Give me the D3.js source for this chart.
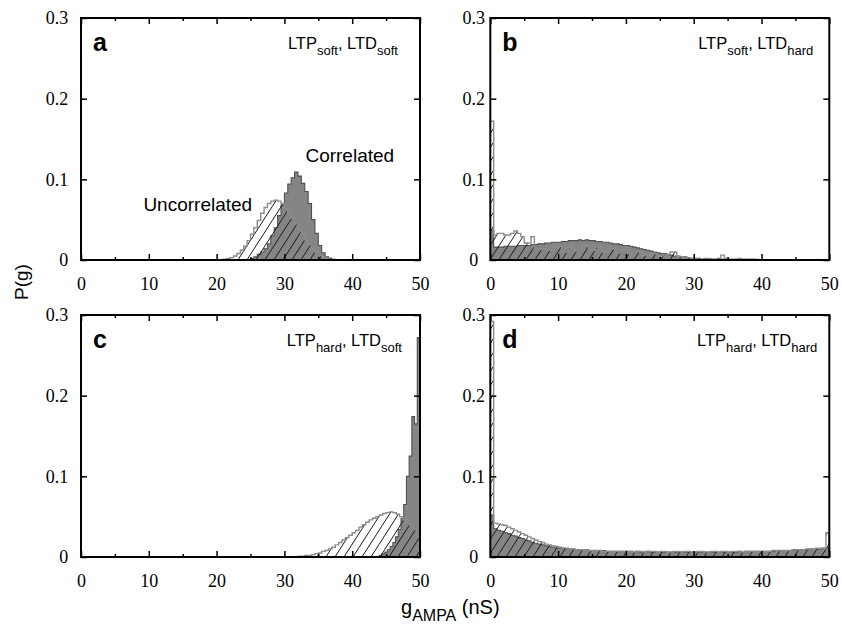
<!DOCTYPE html>
<html>
<head>
<meta charset="utf-8">
<script src="https://cdn.jsdelivr.net/npm/d3@7"></script>
<style>
  body { margin: 0; background: #fff; }
  .sans { font-family: "Liberation Sans", Arial, sans-serif; fill: #000; }
</style>
</head>
<body>
<script>
// panel ids and the plasticity labels shown in each corner
const panelIds = ['a', 'b', 'c', 'd'];
const ltpLabels = ['soft', 'soft', 'hard', 'hard'];
const ltdLabels = ['soft', 'hard', 'soft', 'hard'];

const xTicks = [0, 10, 20, 30, 40, 50];
const xMinorTicks = [5, 15, 25, 35, 45];
const yTicks = [0, 0.1, 0.2, 0.3];

// histogram bins: first bin edge (nS), bin width (nS), P(g) per bin
const corrAStart = 25, corrAWidth = 0.5;
const corrA = [0.002, 0.004, 0.007, 0.010, 0.014, 0.020, 0.030, 0.040, 0.055, 0.068,
  0.083, 0.094, 0.102, 0.109, 0.104, 0.095, 0.085, 0.070, 0.050, 0.033,
  0.018, 0.009, 0.004, 0.002, 0.001];
const uncorrAStart = 21, uncorrAWidth = 0.5;
const uncorrA = [0.001, 0.002, 0.003, 0.005, 0.008, 0.012, 0.017, 0.024, 0.032, 0.040,
  0.049, 0.058, 0.065, 0.070, 0.073, 0.074, 0.073, 0.070, 0.064, 0.058,
  0.052, 0.045, 0.038, 0.032, 0.025, 0.019, 0.014, 0.010, 0.006, 0.004, 0.002];

const corrBStart = 0, corrBWidth = 0.5;
const corrB = [0.037,
  0.016, 0.016, 0.016, 0.017, 0.017, 0.017, 0.017, 0.018, 0.018,
  0.018, 0.018, 0.019, 0.019, 0.020, 0.020, 0.021, 0.021, 0.022, 0.022,
  0.022, 0.023, 0.023, 0.024, 0.024, 0.024, 0.025, 0.024, 0.025, 0.024,
  0.024, 0.023, 0.023, 0.022, 0.022, 0.021, 0.020, 0.020, 0.019, 0.018,
  0.018, 0.017, 0.016, 0.015, 0.014, 0.013, 0.012, 0.011, 0.010, 0.009,
  0.008, 0.008, 0.007, 0.006, 0.005, 0.005, 0.004, 0.004, 0.003, 0.002,
  0.002, 0.002, 0.001, 0.001, 0.001, 0.001, 0.001, 0.002, 0.001, 0.001,
  0.001, 0.001, 0.001, 0.001, 0.001, 0.001, 0.001, 0.001, 0.000, 0.000];
const uncorrBStart = 0, uncorrBWidth = 0.5;
const uncorrB = [0.172,
  0.031, 0.033, 0.033, 0.031, 0.031, 0.033, 0.036, 0.033, 0.029,
  0.021, 0.021, 0.029, 0.013, 0.013, 0.014, 0.014, 0.012, 0.012, 0.017,
  0.017, 0.010, 0.010, 0.015, 0.015, 0.011, 0.011, 0.018, 0.018, 0.012,
  0.012, 0.016, 0.016, 0.010, 0.010, 0.014, 0.014, 0.009, 0.009, 0.012,
  0.012, 0.007, 0.007, 0.010, 0.010, 0.006, 0.006, 0.008, 0.008, 0.005,
  0.005, 0.007, 0.007, 0.010, 0.010, 0.004, 0.004, 0.003, 0.003, 0.002,
  0.002, 0.001, 0.001, 0.002, 0.002, 0.001, 0.001, 0.001, 0.006, 0.002,
  0.001, 0.001, 0.001, 0.002, 0.001, 0.001, 0.001, 0.001, 0.001, 0.000];

const corrCStart = 44, corrCWidth = 0.4;
const corrC = [0.002, 0.004, 0.006, 0.009, 0.013, 0.018, 0.025, 0.034, 0.048, 0.065,
  0.100, 0.125, 0.174, 0.165, 0.272];
const uncorrCStart = 32, uncorrCWidth = 0.5;
const uncorrC = [0.001, 0.001, 0.002, 0.002, 0.003, 0.004, 0.005, 0.007, 0.008, 0.010,
  0.012, 0.015, 0.018, 0.021, 0.024, 0.027, 0.030, 0.033, 0.037, 0.040,
  0.043, 0.046, 0.048, 0.050, 0.052, 0.054, 0.055, 0.056, 0.055, 0.053,
  0.050, 0.046, 0.042, 0.038, 0.034, 0.029];

const corrDStart = 0, corrDWidth = 0.5;
const corrD = [0.052,
  0.035, 0.033, 0.032, 0.030, 0.029, 0.027, 0.026, 0.024, 0.023,
  0.021, 0.020, 0.018, 0.017, 0.016, 0.015, 0.014, 0.013, 0.012, 0.012,
  0.011, 0.011, 0.010, 0.010, 0.010, 0.009, 0.009, 0.009, 0.009, 0.008,
  0.008, 0.008, 0.008, 0.008, 0.007, 0.007, 0.007, 0.007, 0.007, 0.007,
  0.007, 0.007, 0.006, 0.007, 0.006, 0.006, 0.007, 0.006, 0.006, 0.006,
  0.006, 0.006, 0.006, 0.006, 0.006, 0.006, 0.006, 0.006, 0.006, 0.006,
  0.006, 0.006, 0.006, 0.006, 0.006, 0.006, 0.006, 0.006, 0.006, 0.006,
  0.006, 0.006, 0.006, 0.007, 0.006, 0.007, 0.007, 0.007, 0.007, 0.007,
  0.007, 0.007, 0.007, 0.007, 0.008, 0.008, 0.008, 0.008, 0.008, 0.008,
  0.009, 0.009, 0.009, 0.009, 0.010, 0.010, 0.010, 0.010, 0.011, 0.011];
const uncorrDStart = 0, uncorrDWidth = 0.5;
const uncorrD = [0.292,
  0.042, 0.041, 0.040, 0.039, 0.037, 0.035, 0.033, 0.031, 0.029,
  0.027, 0.025, 0.023, 0.021, 0.019, 0.018, 0.016, 0.015, 0.014, 0.013,
  0.012, 0.011, 0.011, 0.010, 0.010, 0.009, 0.009, 0.009, 0.008, 0.008,
  0.008, 0.008, 0.008, 0.007, 0.007, 0.007, 0.007, 0.007, 0.007, 0.007,
  0.007, 0.007, 0.006, 0.007, 0.007, 0.006, 0.007, 0.007, 0.007, 0.006,
  0.007, 0.007, 0.006, 0.006, 0.007, 0.007, 0.006, 0.007, 0.007, 0.006,
  0.006, 0.007, 0.007, 0.006, 0.006, 0.007, 0.007, 0.006, 0.007, 0.007,
  0.006, 0.007, 0.007, 0.007, 0.006, 0.007, 0.007, 0.007, 0.007, 0.007,
  0.007, 0.007, 0.007, 0.008, 0.008, 0.008, 0.008, 0.008, 0.008, 0.009,
  0.009, 0.009, 0.009, 0.010, 0.010, 0.010, 0.011, 0.011, 0.010, 0.030];

const correlated = [
  [corrAStart, corrAWidth, corrA], [corrBStart, corrBWidth, corrB],
  [corrCStart, corrCWidth, corrC], [corrDStart, corrDWidth, corrD]];
const uncorrelated = [
  [uncorrAStart, uncorrAWidth, uncorrA], [uncorrBStart, uncorrBWidth, uncorrB],
  [uncorrCStart, uncorrCWidth, uncorrC], [uncorrDStart, uncorrDWidth, uncorrD]];

// layout
const width = 842, height = 626;
const lefts = [81, 490.3], tops = [18, 315];
const plotW = 339, plotH = 242;
const labelInset = [22, 16, 18, 12];
const serif = 'Liberation Serif, DejaVu Serif, serif';

const svg = d3.select('body').append('svg')
	.attr('width', width)
	.attr('height', height);

const defs = svg.append('defs');
const hatch = defs.append('pattern')
	.attr('id', 'hatch')
	.attr('patternUnits', 'userSpaceOnUse')
	.attr('width', 9)
	.attr('height', 14);
hatch.append('path')
	.attr('d', 'M0,14 L9,0 M-2,3.1 L2,-3.1 M7,17.1 L11,10.9')
	.attr('stroke', '#1a1a1a')
	.attr('stroke-width', 1);

function toSteps(start, w, values) {
	let pts = values.map((v, i) => [start + i * w, v]);
	pts.push([start + values.length * w, values[values.length - 1]]);
	return pts;
}

// d3 axes put their own font on the group, so restyle after the call
function styleAxis(sel) {
	sel.attr('font-family', null).attr('font-size', null);
	sel.selectAll('.tick line').attr('stroke', '#000').attr('stroke-width', 1.5);
	sel.selectAll('.tick text')
		.attr('fill', '#000')
		.style('font-family', serif)
		.style('font-size', '18px');
	sel.select('.domain').remove();
}

panelIds.forEach((id, i) => {
	let col = i % 2, row = Math.floor(i / 2);
	let left = lefts[col], top = tops[row];

	let x = d3.scaleLinear().domain([0, 50]).range([left, left + plotW]);
	let y = d3.scaleLinear().domain([0, 0.3]).range([top + plotH, top]);

	let g = svg.append('g').attr('class', 'panel-' + id);

	defs.append('clipPath').attr('id', 'clip-' + id)
		.append('rect')
		.attr('x', left).attr('y', top)
		.attr('width', plotW).attr('height', plotH);

	let area = d3.area()
		.x(d => x(d[0]))
		.y0(y(0))
		.y1(d => y(d[1]))
		.curve(d3.curveStepAfter);

	let plot = g.append('g').attr('clip-path', `url(#clip-${id})`);

	let [cs, cw, cv] = correlated[i];
	plot.append('path')
		.attr('d', area(toSteps(cs, cw, cv)))
		.attr('fill', '#858585')
		.attr('stroke', '#505050')
		.attr('stroke-width', 1.1);

	let [us, uw, uv] = uncorrelated[i];
	plot.append('path')
		.attr('d', area(toSteps(us, uw, uv)))
		.attr('fill', 'url(#hatch)')
		.attr('stroke', '#8c8c8c')
		.attr('stroke-width', 1.4);

	// axes, ticks pointing inward
	g.append('g')
		.attr('transform', `translate(0,${top + plotH})`)
		.call(d3.axisBottom(x).tickValues(xTicks).tickSize(-6).tickPadding(17).tickFormat(d3.format('d')))
		.call(styleAxis);
	g.append('g')
		.attr('transform', `translate(0,${top + plotH})`)
		.call(d3.axisBottom(x).tickValues(xMinorTicks).tickSize(-3).tickFormat(''))
		.call(styleAxis);
	g.append('g')
		.attr('transform', `translate(0,${top})`)
		.call(d3.axisTop(x).tickValues(xTicks).tickSize(-6).tickFormat(''))
		.call(styleAxis);
	g.append('g')
		.attr('transform', `translate(0,${top})`)
		.call(d3.axisTop(x).tickValues(xMinorTicks).tickSize(-3).tickFormat(''))
		.call(styleAxis);

	let yAxis = g.append('g')
		.attr('transform', `translate(${left},0)`)
		.call(d3.axisLeft(y).tickValues(yTicks).tickSize(-6).tickPadding(12.7)
			.tickFormat(d => d === 0 ? '0' : d3.format('.1f')(d)))
		.call(styleAxis);
	if (col === 1) {
		yAxis.selectAll('text').attr('text-anchor', 'middle').attr('x', -16.5);
	}
	g.append('g')
		.attr('transform', `translate(${left + plotW},0)`)
		.call(d3.axisRight(y).tickValues(yTicks).tickSize(-6).tickFormat(''))
		.call(styleAxis);

	g.append('rect')
		.attr('x', left).attr('y', top)
		.attr('width', plotW).attr('height', plotH)
		.attr('fill', 'none')
		.attr('stroke', '#000')
		.attr('stroke-width', 2);

	// panel letter
	g.append('text')
		.attr('class', 'sans')
		.attr('x', left + 12)
		.attr('y', top + 33)
		.style('font-size', '25px')
		.style('font-weight', 'bold')
		.text(id);

	// plasticity label
	let lab = g.append('text')
		.attr('class', 'sans')
		.attr('x', left + plotW - labelInset[i])
		.attr('y', top + 31)
		.attr('text-anchor', 'end')
		.style('font-size', '16.5px');
	lab.append('tspan').text('LTP');
	lab.append('tspan').attr('dy', 5.5).style('font-size', '13px').text(ltpLabels[i]);
	lab.append('tspan').attr('dy', -5.5).text(', LTD');
	lab.append('tspan').attr('dy', 5.5).style('font-size', '13px').text(ltdLabels[i]);

	if (id === 'a') {
		g.append('text').attr('class', 'sans')
			.attr('x', x(9.2)).attr('y', y(0.061))
			.style('font-size', '19px')
			.text('Uncorrelated');
		g.append('text').attr('class', 'sans')
			.attr('x', x(33.1)).attr('y', y(0.121))
			.style('font-size', '19px')
			.text('Correlated');
	}
});

// axis titles
svg.append('text')
	.attr('class', 'sans')
	.attr('transform', 'translate(27.5,282) rotate(-90)')
	.attr('text-anchor', 'middle')
	.style('font-size', '19px')
	.text('P(g)');

let xt = svg.append('text')
	.attr('class', 'sans')
	.attr('x', 401)
	.attr('y', 614)
	.style('font-size', '20px');
xt.append('tspan').text('g');
xt.append('tspan').attr('dy', 7).style('font-size', '16px').text('AMPA');
xt.append('tspan').attr('dy', -7).text(' (nS)');
</script>
</body>
</html>
